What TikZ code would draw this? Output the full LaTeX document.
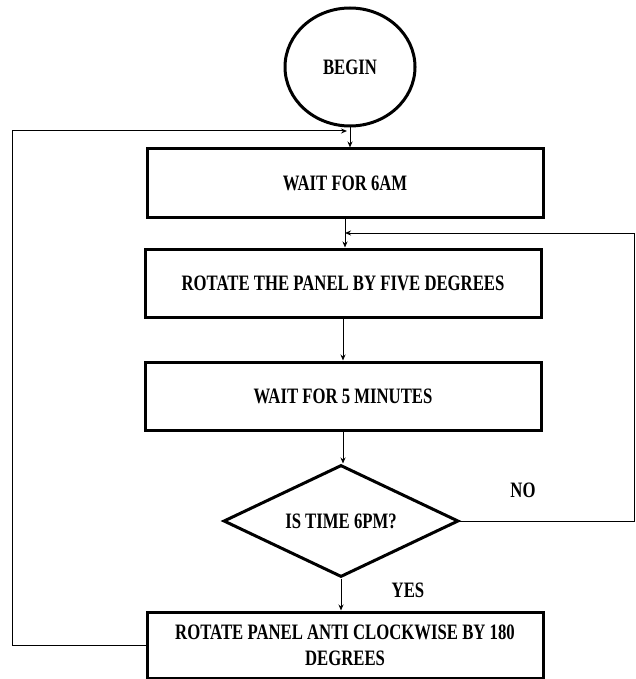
\documentclass[tikz,border=0pt]{standalone}
\usepackage{fontspec}
\setmainfont{Liberation Serif}[FakeStretch=0.76]
\usetikzlibrary{shapes.geometric,arrows.meta}
\begin{document}
\begin{tikzpicture}[x=1pt,y=-1pt,
  every node/.style={font=\fontsize{22}{26}\selectfont\bfseries},
  boxnode/.style={draw,line width=3pt,minimum width=396pt,minimum height=68pt,inner sep=0pt,align=center},
  conn/.style={line width=1pt},
  arr/.style={conn,-{Stealth[length=6pt,width=5pt]}}]
\useasboundingbox (0,0) rectangle (636,679);
\node[ellipse,draw,line width=3pt,minimum width=130pt,minimum height=118pt,inner sep=0pt] (begin) at (350,67) {BEGIN};
\node[boxnode] (b1) at (345,183) {WAIT FOR 6AM};
\node[boxnode] (b2) at (343,283) {ROTATE THE PANEL BY FIVE DEGREES};
\node[boxnode] (b3) at (343,396) {WAIT FOR 5 MINUTES};
\node[diamond,draw,line width=3pt,minimum width=235pt,minimum height=112pt,aspect=2.1,inner sep=0pt] (d) at (341,521) {IS TIME 6PM?};
\node[boxnode,minimum height=66pt] (b4) at (345,645) {ROTATE PANEL ANTI CLOCKWISE BY 180\\DEGREES};
\node (no) at (523,490) {NO};
\node (yes) at (408,590) {YES};
\coordinate (t1) at (347,131);
\coordinate (t2) at (345,233);
\coordinate (l1) at (12,645);
\coordinate (l2) at (12,131);
\coordinate (r1) at (634,521);
\coordinate (r2) at (634,233);
\draw[arr] (begin.south) -- (b1.north -| begin.south);
\draw[arr] (b1.south) -- (b2.north -| b1.south);
\draw[arr] (b2.south) -- (b3.north -| b2.south);
\draw[arr] (b3.south) -- (d.north -| b3.south);
\draw[arr] (d.south) -- (b4.north -| d.south);
\draw[arr] (b4.west) -- (l1) -- (l2) -- (t1);
\draw[arr] (d.east) -- (r1) -- (r2) -- (t2);
\end{tikzpicture}
\end{document}
